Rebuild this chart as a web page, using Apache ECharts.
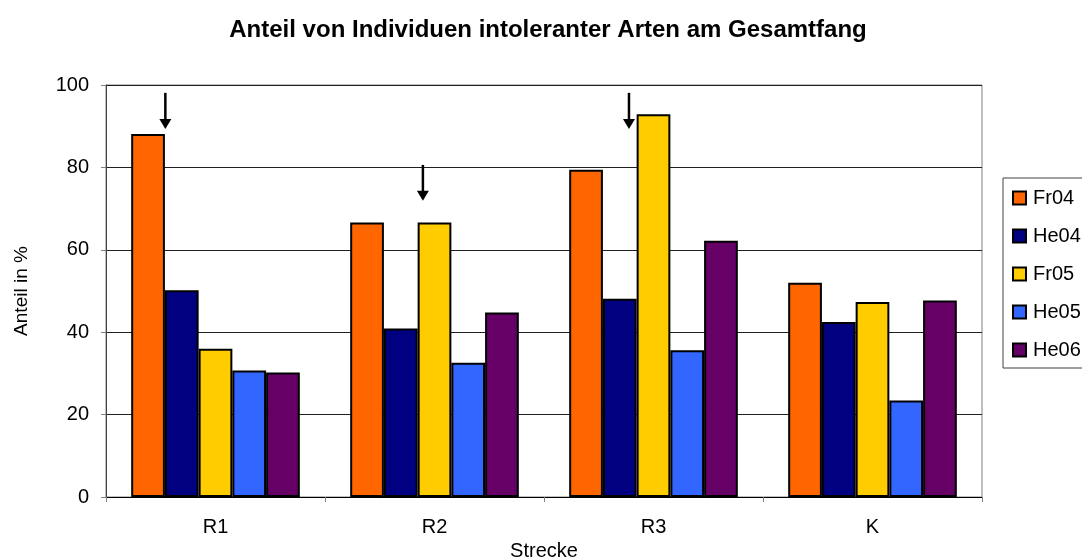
<!DOCTYPE html>
<html>
<head>
<meta charset="utf-8">
<script src="https://cdn.jsdelivr.net/npm/echarts@6/dist/echarts.min.js"></script>
<style>
  html, body { margin: 0; padding: 0; background: #fff; }
  #chart { width: 1082px; height: 558px; }
</style>
</head>
<body>
<div id="chart"></div>
<script>
// Strecken
var categories = ['R1', 'R2', 'R3', 'K'];
// Anteil in % je Befischung
var fr04 = [88.1, 66.6, 79.4, 52.0];
var he04 = [50.2, 40.9, 48.1, 42.5];
var fr05 = [36.0, 66.6, 92.9, 47.3];
var he05 = [30.7, 32.6, 35.6, 23.4];
var he06 = [30.2, 44.8, 62.2, 47.7];
var yTicks = [0, 20, 40, 60, 80, 100];

// Pfeile (x in Kategorie-Einheiten, y in %)
var arrowX = [0.271, 1.447, 2.388];
var arrowTop = [98.1, 80.6, 98.1];
var arrowTip = [89.3, 71.9, 89.3];

var font = 'Liberation Sans, Arial, sans-serif';
var chart = echarts.init(document.getElementById('chart'));

function barSeries(name, data, color) {
  return {
    name: name,
    type: 'bar',
    data: data,
    barGap: '0%',
    barCategoryGap: '23%',
    itemStyle: { color: color, borderColor: '#000', borderWidth: 2 }
  };
}

var arrowData = [];
for (var i = 0; i < arrowX.length; i++) {
  arrowData.push([arrowX[i], arrowTop[i], arrowTip[i]]);
}

var option = {
  animation: false,
  backgroundColor: '#fff',
  title: {
    text: 'Anteil von Individuen intoleranter Arten am Gesamtfang',
    left: 548,
    textAlign: 'center',
    top: 18,
    padding: 0,
    textStyle: { fontFamily: font, fontSize: 24, fontWeight: 'bold', color: '#000' }
  },
  legend: {
    orient: 'vertical',
    left: 1003,
    top: 178,
    padding: [10, 40, 8, 9],
    itemWidth: 13,
    itemHeight: 13,
    itemGap: 18,
    icon: 'rect',
    borderColor: '#404040',
    borderWidth: 1,
    backgroundColor: '#fff',
    data: ['Fr04', 'He04', 'Fr05', 'He05', 'He06'],
    textStyle: { fontFamily: font, fontSize: 20, lineHeight: 20, color: '#000', padding: [0, 0, 0, 2] }
  },
  grid: {
    left: 106,
    right: 100,
    top: 85,
    bottom: 61,
    containLabel: false,
    outerBoundsMode: 'none',
    show: true,
    borderColor: '#808080',
    borderWidth: 1
  },
  xAxis: [
    {
      type: 'category',
      data: categories,
      name: 'Strecke',
      nameLocation: 'middle',
      nameGap: 42,
      nameTextStyle: { fontFamily: font, fontSize: 20, color: '#000' },
      axisLine: { lineStyle: { color: '#000', width: 1 } },
      axisTick: { show: true, length: 5, lineStyle: { color: '#808080' } },
      axisLabel: { fontFamily: font, fontSize: 20, color: '#000', margin: 20 }
    },
    {
      type: 'value',
      min: 0,
      max: 4,
      show: false
    }
  ],
  yAxis: {
    type: 'value',
    min: 0,
    max: 100,
    interval: 20,
    name: 'Anteil in %',
    nameLocation: 'middle',
    nameGap: 75,
    nameRotate: 90,
    nameTextStyle: { fontFamily: font, fontSize: 19, color: '#000' },
    axisLine: { show: true, lineStyle: { color: '#404040', width: 1 } },
    axisTick: { show: true, length: 5, lineStyle: { color: '#808080' } },
    axisLabel: {
      fontFamily: font, fontSize: 20, color: '#000', margin: 17,
      customValues: yTicks
    },
    splitLine: { lineStyle: { color: '#202020', width: 1 } }
  },
  series: [
    barSeries('Fr04', fr04, '#FF6600'),
    barSeries('He04', he04, '#000080'),
    barSeries('Fr05', fr05, '#FFCC00'),
    barSeries('He05', he05, '#3366FF'),
    barSeries('He06', he06, '#660066'),
    {
      type: 'custom',
      xAxisIndex: 1,
      yAxisIndex: 0,
      silent: true,
      z: 10,
      data: arrowData,
      renderItem: function (params, api) {
        var top = api.coord([api.value(0), api.value(1)]);
        var tip = api.coord([api.value(0), api.value(2)]);
        var headH = 10, headW = 6;
        return {
          type: 'group',
          children: [
            {
              type: 'line',
              shape: { x1: top[0], y1: top[1], x2: tip[0], y2: tip[1] - headH + 1 },
              style: { stroke: '#000', lineWidth: 2.5 }
            },
            {
              type: 'polygon',
              shape: { points: [[tip[0] - headW, tip[1] - headH], [tip[0] + headW, tip[1] - headH], [tip[0], tip[1]]] },
              style: { fill: '#000' }
            }
          ]
        };
      }
    }
  ]
};

chart.setOption(option);
</script>
</body>
</html>
